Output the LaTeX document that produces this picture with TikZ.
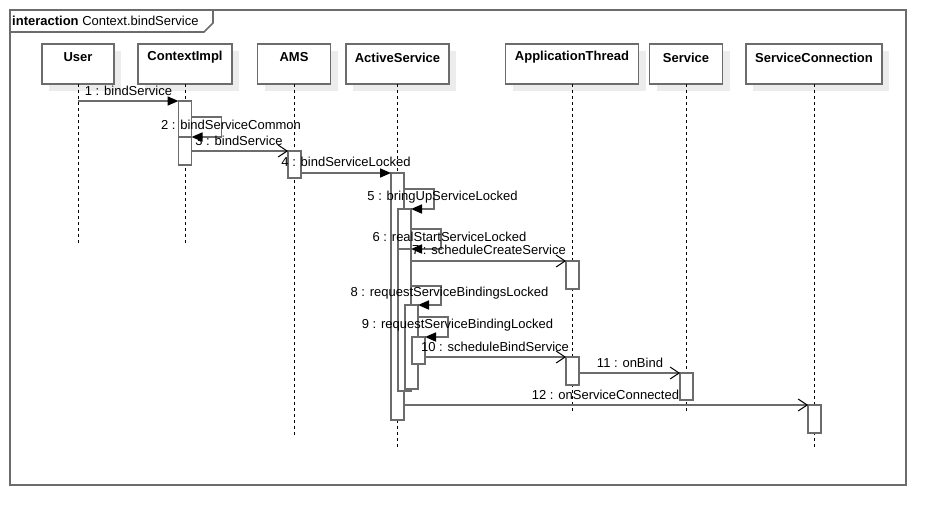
\documentclass[tikz,border=0pt]{standalone}
\usepackage{fontspec}
\setmainfont{Liberation Sans}
\usetikzlibrary{arrows.meta,shadows,calc}
\definecolor{lg}{RGB}{108,108,108}
\definecolor{shd}{RGB}{236,236,236}
\begin{document}
\begin{tikzpicture}[x=1pt,y=-1pt,
  every node/.style={font=\fontsize{13}{15}\selectfont},
  head/.style={draw=lg,line width=1.6pt,fill=white,minimum height=40,inner sep=0,outer sep=0,anchor=north,
    drop shadow={shadow xshift=7pt,shadow yshift=-7pt,fill=shd,opacity=1}},
  headtxt/.style={font=\fontsize{13}{15}\selectfont\bfseries,inner sep=0},
  life/.style={black,line width=0.8pt,dash pattern=on 3pt off 3pt},
  act/.style={draw=lg,line width=1.6pt,fill=white,minimum width=13,inner sep=0,outer sep=0,anchor=north},
  msg/.style={lg,line width=1.6pt},
  sync/.style={msg,-{Triangle[length=11pt,width=9pt,color=black]}},
  async/.style={msg,-{Straight Barb[length=9pt,width=12pt,color=black,line width=1pt]}},
  lbl/.style={inner sep=0},
]
\useasboundingbox (0,0) rectangle (946,525);
% frame
\draw[lg,line width=1.6pt] (10,10) rectangle (906,485);
\draw[lg,line width=1.6pt] (10,32) -- (204,32) -- (213,23) -- (213,10);
\node[lbl,anchor=west] (frlbl) at (12,21) {\textbf{interaction} Context.bindService};

% headers
\node[head,minimum width=72] (U) at (78,44) {};
\node[head,minimum width=94] (CI) at (185,44) {};
\node[head,minimum width=73] (AMS) at (294,44) {};
\node[head,minimum width=103] (AS) at (397.5,44) {};
\node[head,minimum width=133] (AT) at (572,44) {};
\node[head,minimum width=73] (SV) at (686,44) {};
\node[head,minimum width=136] (SC) at (814,44) {};
\node[headtxt] (Ut) at (78,57.5) {User};
\node[headtxt] (CIt) at (185,57.5) {ContextImpl};
\node[headtxt] (AMSt) at (294,57.5) {AMS};
\node[headtxt] (ASt) at (397.5,57.5) {ActiveService};
\node[headtxt] (ATt) at (572,57.5) {ApplicationThread};
\node[headtxt] (SVt) at (686,57.5) {Service};
\node[headtxt] (SCt) at (814,57.5) {ServiceConnection};

% lifeline ends
\coordinate (Ue) at (78,243);
\coordinate (CIe) at (185,243);
\coordinate (AMSe) at (294,435);
\coordinate (ASe) at (397.5,447);
\coordinate (ATe) at (572,412);
\coordinate (SVe) at (686,412);
\coordinate (SCe) at (814,447);
\draw[life] (U.south) -- (Ue);
\draw[life] (CI.south) -- (CIe);
\draw[life] (AMS.south) -- (AMSe);
\draw[life] (AS.south) -- (ASe);
\draw[life] (AT.south) -- (ATe);
\draw[life] (SV.south) -- (SVe);
\draw[life] (SC.south) -- (SCe);

% activations
\node[act,minimum height=36] (C1) at (185,101) {};
\node[act,minimum height=28] (C2) at (185,137) {};
\node[act,minimum height=27] (AM1) at (294.5,151) {};
\node[act,minimum height=247] (A1) at (397.5,173) {};
\node[act,minimum height=182] (A2) at (404.5,209) {};
\node[act,minimum height=142] (A3) at (404.5,249) {};
\node[act,minimum height=84] (A4) at (411.5,305) {};
\node[act,minimum height=27] (A5) at (418.5,337) {};
\node[act,minimum height=28] (AT1) at (572.5,261) {};
\node[act,minimum height=28] (AT2) at (572.5,357) {};
\node[act,minimum height=27] (S1) at (686.5,373) {};
\node[act,minimum height=28] (SC1) at (814.5,405) {};

% messages
\draw[sync] (C1.north west -| U.south) -- (C1.north west);
\draw[sync] (C2.north east) ++(0,-20) -- ++(30,0) |- (C2.north east);
\draw[async] (AM1.north west -| C2.east) -- (AM1.north west);
\draw[sync] (A1.north west -| AM1.east) -- (A1.north west);
\draw[sync] (A2.north east -| A1.east) ++(0,-20) -- ++(30,0) |- (A2.north east);
\draw[sync] (A3.north east -| A2.east) ++(0,-20) -- ++(30,0) |- (A3.north east);
\draw[async] (AT1.north west -| A3.east) -- (AT1.north west);
\draw[sync] (A4.north east -| A3.east) ++(0,-19) -- ++(30,0) |- (A4.north east);
\draw[sync] (A5.north east -| A4.east) ++(0,-20) -- ++(30,0) |- (A5.north east);
\draw[async] (AT2.north west -| A5.east) -- (AT2.north west);
\draw[async] (S1.north west -| AT2.east) -- (S1.north west);
\draw[async] (SC1.north west -| A1.east) -- (SC1.north west);

% labels
\node[lbl] (t1) at (128.5,91) {1 : bindService};
\node[lbl] (t2) at (231,125) {2 : bindServiceCommon};
\node[lbl] (t3) at (239,141) {3 : bindService};
\node[lbl] (t4) at (346,162) {4 : bindServiceLocked};
\node[lbl] (t5) at (442.5,197) {5 : bringUpServiceLocked};
\node[lbl] (t6) at (449.5,237) {6 : realStartServiceLocked};
\node[lbl] (t7) at (489,250) {7 : scheduleCreateService};
\node[lbl] (t8) at (449.5,293) {8 : requestServiceBindingsLocked};
\node[lbl] (t9) at (457.5,325) {9 : requestServiceBindingLocked};
\node[lbl] (t10) at (495,347) {10 : scheduleBindService};
\node[lbl] (t11) at (630,363) {11 : onBind};
\node[lbl] (t12) at (605.5,395) {12 : onServiceConnected};
\end{tikzpicture}
\end{document}
